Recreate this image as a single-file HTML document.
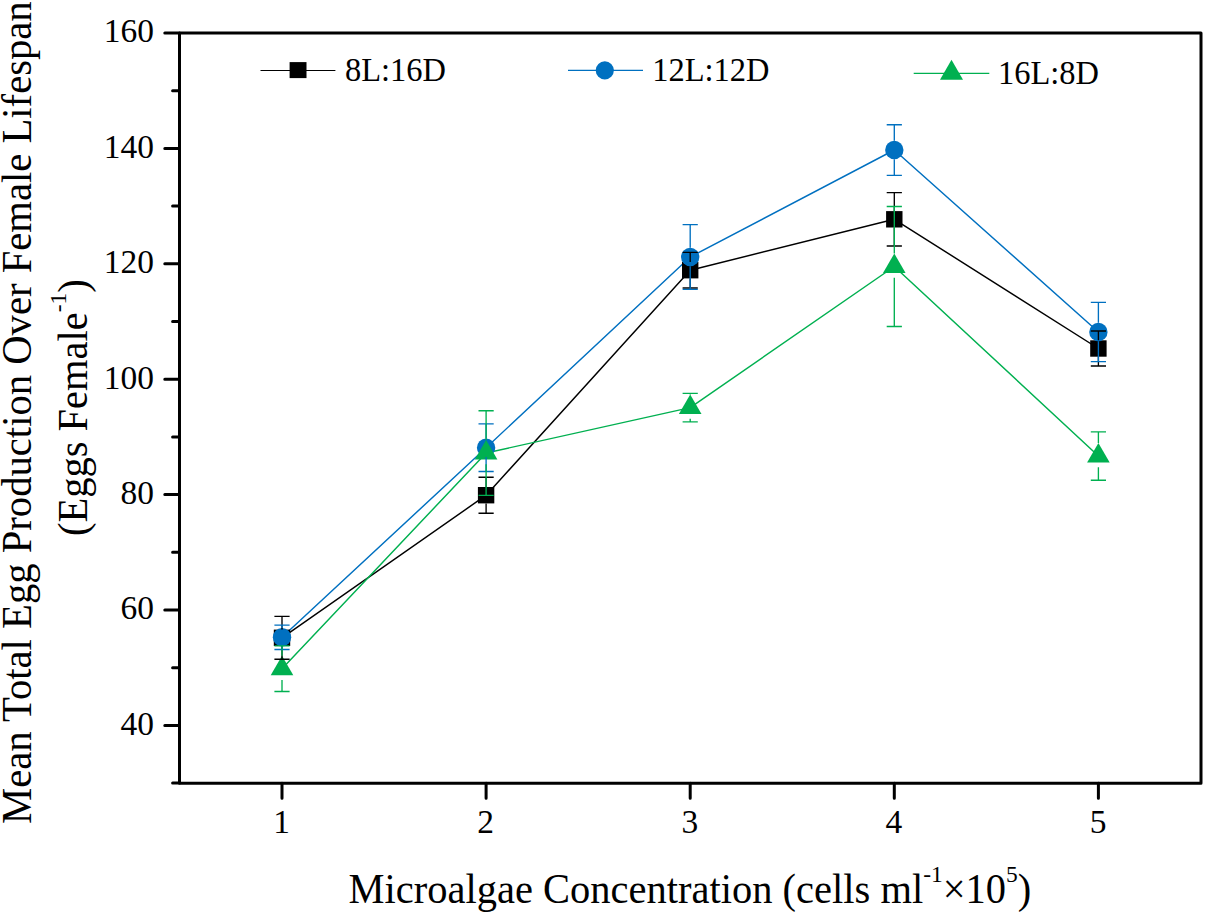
<!DOCTYPE html>
<html><head><meta charset="utf-8"><title>Chart</title>
<style>
html,body{margin:0;padding:0;background:#fff;}
body{width:1205px;height:914px;overflow:hidden;}
svg{display:block;}
text{font-family:"Liberation Serif",serif;fill:#000;}
</style></head><body>
<svg width="1205" height="914" viewBox="0 0 1205 914">
<polyline points="282.0,637.8 486.1,495.2 690.2,270.2 894.3,219.3 1098.4,348.5" fill="none" stroke="#000000" stroke-width="1.45" stroke-linejoin="round"/>
<polyline points="282.0,637.3 486.1,447.7 690.2,257.0 894.3,150.0 1098.4,332.0" fill="none" stroke="#0070C0" stroke-width="1.45" stroke-linejoin="round"/>
<polyline points="282.0,668.7 486.1,453.0 690.2,407.6 894.3,266.5 1098.4,456.0" fill="none" stroke="#00B050" stroke-width="1.45" stroke-linejoin="round"/>
<rect x="273.8" y="629.6" width="16.4" height="16.4" fill="#000000"/>
<rect x="477.9" y="487.0" width="16.4" height="16.4" fill="#000000"/>
<rect x="682.0" y="262.0" width="16.4" height="16.4" fill="#000000"/>
<rect x="886.1" y="211.1" width="16.4" height="16.4" fill="#000000"/>
<rect x="1090.2" y="340.3" width="16.4" height="16.4" fill="#000000"/>
<circle cx="282.0" cy="637.3" r="9.2" fill="#0070C0"/>
<circle cx="486.1" cy="447.7" r="9.2" fill="#0070C0"/>
<circle cx="690.2" cy="257.0" r="9.2" fill="#0070C0"/>
<circle cx="894.3" cy="150.0" r="9.2" fill="#0070C0"/>
<circle cx="1098.4" cy="332.0" r="9.2" fill="#0070C0"/>
<polygon points="282.0,655.7 293.3,675.2 270.7,675.2" fill="#00B050"/>
<polygon points="486.1,440.0 497.4,459.5 474.8,459.5" fill="#00B050"/>
<polygon points="690.2,394.6 701.5,414.1 678.9,414.1" fill="#00B050"/>
<polygon points="894.3,253.5 905.6,273.0 883.0,273.0" fill="#00B050"/>
<polygon points="1098.4,443.0 1109.7,462.5 1087.1,462.5" fill="#00B050"/>
<path d="M282.0,616.4V629.6M282.0,646.0V659.2M274.4,616.4H289.6M274.4,659.2H289.6M486.1,477.2V487.0M486.1,503.4V513.2M478.5,477.2H493.7M478.5,513.2H493.7M690.2,252.4V262.0M690.2,278.4V288.0M682.6,252.4H697.8M682.6,288.0H697.8M894.3,192.6V211.1M894.3,227.5V246.0M886.7,192.6H901.9M886.7,246.0H901.9M1098.4,331.0V340.3M1098.4,356.7V366.0M1090.8,331.0H1106.0M1090.8,366.0H1106.0" fill="none" stroke="#000000" stroke-width="1.35"/>
<path d="M282.0,625.1V628.1M282.0,646.5V649.5M274.4,625.1H289.6M274.4,649.5H289.6M486.1,423.9V438.5M486.1,456.9V471.5M478.5,423.9H493.7M478.5,471.5H493.7M690.2,224.6V247.8M690.2,266.2V289.4M682.6,224.6H697.8M682.6,289.4H697.8M894.3,124.7V140.8M894.3,159.2V175.3M886.7,124.7H901.9M886.7,175.3H901.9M1098.4,302.4V322.8M1098.4,341.2V361.6M1090.8,302.4H1106.0M1090.8,361.6H1106.0" fill="none" stroke="#0070C0" stroke-width="1.35"/>
<path d="M282.0,645.9V655.7M282.0,679.9V691.5M274.4,645.9H289.6M274.4,691.5H289.6M486.1,410.7V440.0M486.1,464.2V495.3M478.5,410.7H493.7M478.5,495.3H493.7M690.2,393.3V394.6M690.2,418.8V421.9M682.6,393.3H697.8M682.6,421.9H697.8M894.3,206.5V253.5M894.3,277.7V326.5M886.7,206.5H901.9M886.7,326.5H901.9M1098.4,431.8V443.0M1098.4,467.2V480.2M1090.8,431.8H1106.0M1090.8,480.2H1106.0" fill="none" stroke="#00B050" stroke-width="1.35"/>
<path d="M179.5,33.0H1201.0V783.2H179.5Z" fill="none" stroke="#000" stroke-width="3.0" stroke-linejoin="round"/>
<path d="M179.5,783.1H172.6M179.5,725.4H164.8M179.5,667.7H172.6M179.5,610.0H164.8M179.5,552.3H172.6M179.5,494.6H164.8M179.5,436.9H172.6M179.5,379.2H164.8M179.5,321.5H172.6M179.5,263.8H164.8M179.5,206.1H172.6M179.5,148.4H164.8M179.5,90.7H172.6M179.5,33.0H164.8M282.0,783.2V798.2M486.1,783.2V798.2M690.2,783.2V798.2M894.3,783.2V798.2M1098.4,783.2V798.2" fill="none" stroke="#000" stroke-width="3.0" stroke-linecap="round"/>
<text transform="translate(154.0,734.8) scale(1,1.015)" font-size="33.5" text-anchor="end">40</text>
<text transform="translate(154.0,619.4) scale(1,1.015)" font-size="33.5" text-anchor="end">60</text>
<text transform="translate(154.0,504.0) scale(1,1.015)" font-size="33.5" text-anchor="end">80</text>
<text transform="translate(154.0,388.6) scale(1,1.015)" font-size="33.5" text-anchor="end">100</text>
<text transform="translate(154.0,273.2) scale(1,1.015)" font-size="33.5" text-anchor="end">120</text>
<text transform="translate(154.0,157.8) scale(1,1.015)" font-size="33.5" text-anchor="end">140</text>
<text transform="translate(154.0,42.4) scale(1,1.015)" font-size="33.5" text-anchor="end">160</text>
<text transform="translate(281.6,833.2) scale(1,1.015)" font-size="33.5" text-anchor="middle">1</text>
<text transform="translate(485.7,833.2) scale(1,1.015)" font-size="33.5" text-anchor="middle">2</text>
<text transform="translate(689.8,833.2) scale(1,1.015)" font-size="33.5" text-anchor="middle">3</text>
<text transform="translate(893.9,833.2) scale(1,1.015)" font-size="33.5" text-anchor="middle">4</text>
<text transform="translate(1098.0,833.2) scale(1,1.015)" font-size="33.5" text-anchor="middle">5</text>
<text transform="translate(348.6,902.5) scale(1,1.015)" font-size="40.5">Microalgae Concentration (cells ml<tspan font-size="23.5" dy="-20.5">-1</tspan><tspan dy="20.5">×10</tspan><tspan font-size="23.5" dy="-20.5">5</tspan><tspan dy="20.5">)</tspan></text>
<text transform="translate(30.6,824.0) rotate(-90) scale(1,1.015)" font-size="40.66">Mean Total Egg Production Over Female Lifespan</text>
<text transform="translate(86.6,536.0) rotate(-90) scale(1,1.015)" font-size="40.5">(Eggs Female<tspan font-size="23.5" dy="-20.5">-1</tspan><tspan dy="20.5">)</tspan></text>
<path d="M260.5,70.5H335.4" stroke="#000000" stroke-width="1.15"/>
<rect x="289.6" y="62.1" width="16.9" height="16.0" fill="#000000"/>
<text transform="translate(345.0,81.2) scale(1,1.015)" font-size="32.5">8L:16D</text>
<path d="M568,70.45H643" stroke="#0070C0" stroke-width="1.25"/>
<circle cx="604.8" cy="70.35" r="9.1" fill="#0070C0"/>
<text transform="translate(652.2,81.2) scale(1,1.015)" font-size="32.5">12L:12D</text>
<path d="M913.7,73.3H989.3" stroke="#00B050" stroke-width="1.25"/>
<polygon points="951.5,59.8 963,79.8 940,79.8" fill="#00B050"/>
<text transform="translate(997.9,84.2) scale(1,1.015)" font-size="32.5">16L:8D</text>
</svg>
</body></html>
